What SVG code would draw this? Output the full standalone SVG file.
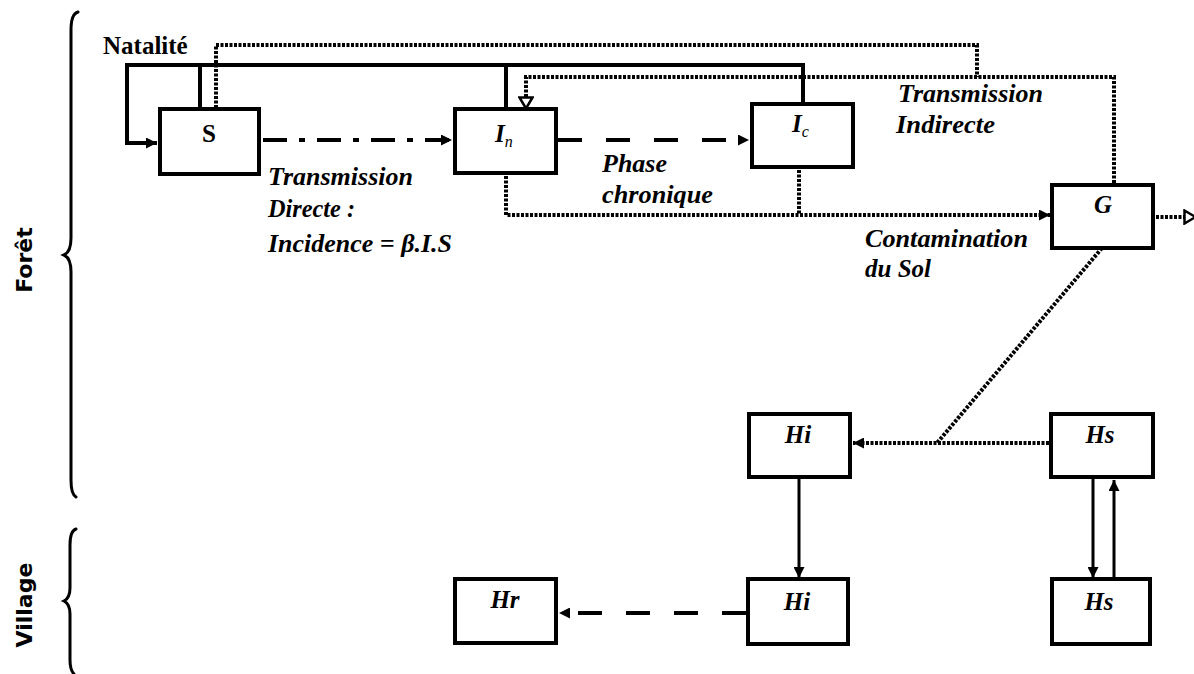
<svg xmlns="http://www.w3.org/2000/svg" width="1194" height="674" viewBox="0 0 1194 674">
<style>
.box{fill:#fff;stroke:#000;stroke-width:4}
.solid{fill:none;stroke:#000;stroke-width:4}
.thin{fill:none;stroke:#000;stroke-width:3}
.dot{fill:none;stroke:#000;stroke-width:4;stroke-dasharray:3 1.5}
.dash{fill:none;stroke:#000;stroke-width:4;stroke-dasharray:24 24}
.dashdot{fill:none;stroke:#000;stroke-width:4;stroke-dasharray:24 12 6 12}
.lbl{font-family:"Liberation Serif","Times New Roman",serif;font-weight:bold;font-style:italic;font-size:25px;fill:#000}
.nm{font-family:"Liberation Serif","Times New Roman",serif;font-weight:bold;font-style:italic;font-size:25px;fill:#000;text-anchor:middle}
.up{font-family:"Liberation Serif","Times New Roman",serif;font-weight:bold;font-size:25px;fill:#000}
.side{font-family:"DejaVu Sans","Noto Sans",sans-serif;font-weight:bold;font-size:22px;fill:#000;text-anchor:middle}
.brace{fill:none;stroke:#000;stroke-width:3;stroke-linecap:round}
</style>
<defs>
<marker id="arr" viewBox="0 0 10 10" refX="10" refY="5" markerWidth="11" markerHeight="11" markerUnits="userSpaceOnUse" orient="auto">
<path d="M0,0 L10,5 L0,10 z" fill="#000"/>
</marker>
<marker id="open" viewBox="0 0 14 16" refX="13" refY="8" markerWidth="14" markerHeight="16" markerUnits="userSpaceOnUse" orient="auto">
<path d="M1.5,1.5 L12.5,8 L1.5,14.5 z" fill="#fff" stroke="#000" stroke-width="2.5"/>
</marker>
</defs>

<g id="braces">
<path class="brace" d="M78 12 Q71 14 71 30 L71 238 Q71 252 64 255 Q71 258 71 272 L71 480 Q71 494 76 497"/>
<path class="brace" d="M76 529 Q70 531 70 545 L70 588 Q70 598 64 601 Q70 604 70 614 L70 660 Q70 670 74 674"/>
<text class="side" transform="translate(32,260) rotate(-90)">Forêt</text>
<text class="side" transform="translate(32,605) rotate(-90)">Village</text>
</g>

<g id="connectors">
<path class="solid" d="M803 102 L803 65 L127 65 L127 143 L157 143" marker-end="url(#arr)"/>
<path class="solid" d="M200 65 L200 108"/>
<path class="solid" d="M506 65 L506 108"/>
<path class="dashdot" d="M263 140 L452 140" marker-end="url(#arr)"/>
<path class="dash" d="M558 140 L749 140" marker-end="url(#arr)"/>
<path class="dot" d="M216 108 L216 45 L977 45 L977 77"/>
<path class="dot" d="M1114 183 L1114 77 L526 77 L526 109" marker-end="url(#open)"/>
<path class="dot" d="M506 176 L506 215 L1050 215" marker-end="url(#arr)"/>
<path class="dot" d="M799 170 L799 215"/>
<path class="dot" d="M1156 217 L1196 217" marker-end="url(#open)"/>
<path class="dot" d="M1102 248 L937 443"/>
<path class="dot" d="M1049 443 L853 443" marker-end="url(#arr)"/>
<path class="thin" d="M799 479 L799 578" marker-end="url(#arr)"/>
<path class="thin" d="M1093 479 L1093 578" marker-end="url(#arr)"/>
<path class="thin" d="M1114 579 L1114 480" marker-end="url(#arr)"/>
<path class="dash" d="M746 613 L559 613" marker-end="url(#arr)"/>
</g>

<g id="labels">
<text class="up" x="103" y="54">Natalité</text>
<text class="lbl" x="268" y="185" textLength="145" lengthAdjust="spacingAndGlyphs">Transmission</text>
<text class="lbl" x="268" y="217" textLength="87" lengthAdjust="spacingAndGlyphs">Directe :</text>
<text class="lbl" x="268" y="252" textLength="184" lengthAdjust="spacingAndGlyphs">Incidence = β.I.S</text>
<text class="lbl" x="602" y="172" textLength="65" lengthAdjust="spacingAndGlyphs">Phase</text>
<text class="lbl" x="602" y="203" textLength="111" lengthAdjust="spacingAndGlyphs">chronique</text>
<text class="lbl" x="898" y="102" textLength="145" lengthAdjust="spacingAndGlyphs">Transmission</text>
<text class="lbl" x="896" y="133" textLength="99" lengthAdjust="spacingAndGlyphs">Indirecte</text>
<text class="lbl" x="865" y="247" textLength="163" lengthAdjust="spacingAndGlyphs">Contamination</text>
<text class="lbl" x="865" y="277" textLength="66" lengthAdjust="spacingAndGlyphs">du Sol</text>
</g>

<g id="node-S">
<rect class="box" x="160" y="109" width="99" height="65"/>
<text class="up" x="209" y="142" text-anchor="middle">S</text>
</g>
<g id="node-In">
<rect class="box" x="455" y="109" width="101" height="64"/>
<text class="nm" x="495" y="142" style="text-anchor:start">I<tspan font-size="16" font-weight="normal" dy="5">n</tspan></text>
</g>
<g id="node-Ic">
<rect class="box" x="752" y="104" width="101" height="63"/>
<text class="nm" x="792" y="132" style="text-anchor:start">I<tspan font-size="16" font-weight="normal" dy="5">c</tspan></text>
</g>
<g id="node-G">
<rect class="box" x="1052" y="185" width="101" height="63"/>
<text class="nm" x="1103" y="213">G</text>
</g>
<g id="node-Hi-foret">
<rect class="box" x="749" y="414" width="101" height="63"/>
<text class="nm" x="798" y="443">Hi</text>
</g>
<g id="node-Hs-foret">
<rect class="box" x="1051" y="414" width="102" height="63"/>
<text class="nm" x="1100" y="443">Hs</text>
</g>
<g id="node-Hi-village">
<rect class="box" x="748" y="579" width="100" height="65"/>
<text class="nm" x="797" y="610">Hi</text>
</g>
<g id="node-Hs-village">
<rect class="box" x="1052" y="579" width="98" height="65"/>
<text class="nm" x="1099" y="610">Hs</text>
</g>
<g id="node-Hr">
<rect class="box" x="455" y="579" width="101" height="64"/>
<text class="nm" x="505" y="608" font-weight="normal">Hr</text>
</g>
</svg>
